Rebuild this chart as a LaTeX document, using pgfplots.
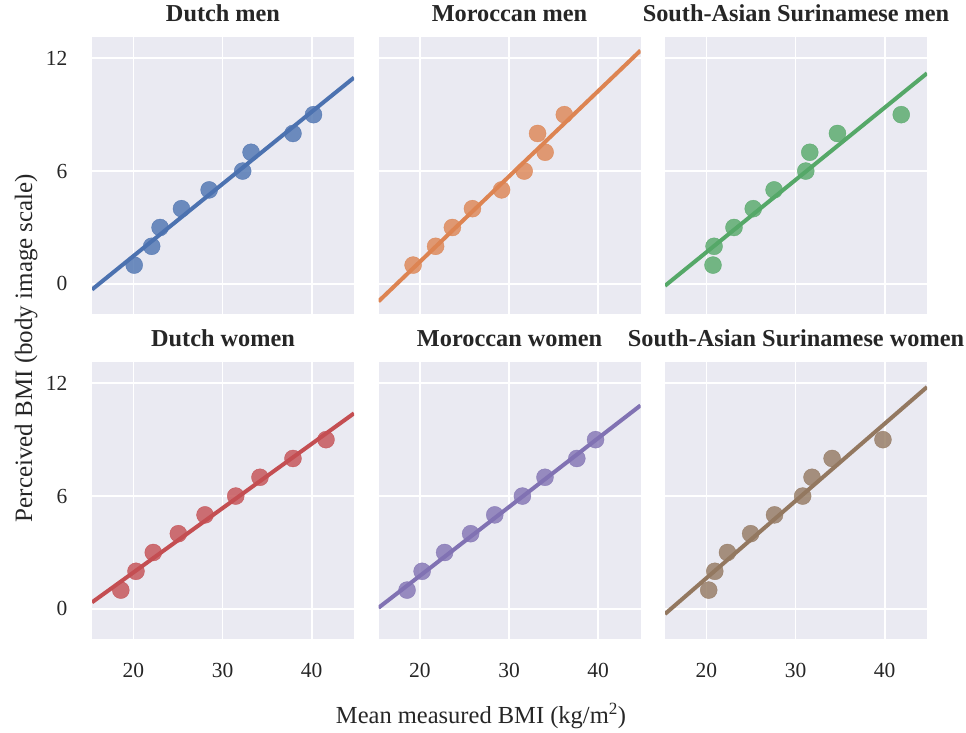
\documentclass[border=0pt]{standalone}
\usepackage{fontspec}
\setmainfont{Liberation Serif}
\usepackage{pgfplots}
\pgfplotsset{compat=1.18}
\definecolor{bgc}{HTML}{EAEAF2}
\definecolor{c1}{HTML}{4C72B0}
\definecolor{c2}{HTML}{DD8452}
\definecolor{c3}{HTML}{55A868}
\definecolor{c4}{HTML}{C44E52}
\definecolor{c5}{HTML}{8172B3}
\definecolor{c6}{HTML}{937860}
\pgfplotsset{
  panel/.style={
    scale only axis, width=262pt, height=277pt, anchor=south west,
    xmin=15.37, xmax=44.74, ymin=-1.6, ymax=13.13,
    axis background/.style={fill=bgc},
    axis line style={draw=none},
    grid=major, major grid style={white, line width=1.6pt},
    xtick={20,30,40}, ytick={0,6,12},
    major tick length=0pt,
    /pgf/number format/assume math mode=true,
    tick label style={font=\fontsize{21.5}{24}\selectfont, text=black!85},
    xticklabel style={yshift=-21pt},
    yticklabel style={xshift=-21pt},
    title style={font=\bfseries\fontsize{24.3}{28}\selectfont, text=black!85, yshift=6pt},
  },
  pts/.style={only marks, mark=*, mark size=8.5pt, mark options={fill=#1, draw=#1, fill opacity=0.8, draw opacity=0.8}},
  fit/.style={no marks, line width=4pt, color=#1},
}
\begin{document}
\begin{tikzpicture}
\path[use as bounding box] (0,0) rectangle (966pt,733pt);
% Row 1
\begin{axis}[panel, at={(92pt,419pt)}, title={Dutch men}, xticklabels={}]
\addplot[pts=c1] coordinates {(20.1,1) (22.06,2) (23.0,3) (25.4,4) (28.5,5) (32.26,6) (33.2,7) (37.9,8) (40.2,9)};
\addplot[fit=c1] coordinates {(15.37,-0.30) (44.74,10.97)};
\end{axis}
\begin{axis}[panel, at={(378.5pt,419pt)}, title={Moroccan men}, xticklabels={}, yticklabels={}]
\addplot[pts=c2] coordinates {(19.25,1) (21.77,2) (23.65,3) (25.9,4) (29.17,5) (31.7,6) (34.05,7) (33.2,8) (36.2,9)};
\addplot[fit=c2] coordinates {(15.37,-0.93) (44.74,12.41)};
\end{axis}
\begin{axis}[panel, at={(665pt,419pt)}, title={South-Asian Surinamese men}, xticklabels={}, yticklabels={}]
\addplot[pts=c3] coordinates {(20.75,1) (20.87,2) (23.1,3) (25.26,4) (27.6,5) (31.15,6) (31.6,7) (34.7,8) (41.85,9)};
\addplot[fit=c3] coordinates {(15.37,-0.1) (44.74,11.2)};
\end{axis}
% Row 2
\begin{axis}[panel, at={(92pt,94pt)}, title={Dutch women}]
\addplot[pts=c4] coordinates {(18.6,1) (20.3,2) (22.24,3) (25.05,4) (28.04,5) (31.48,6) (34.2,7) (37.9,8) (41.6,9)};
\addplot[fit=c4] coordinates {(15.37,0.35) (44.74,10.4)};
\end{axis}
\begin{axis}[panel, at={(378.5pt,94pt)}, title={Moroccan women}, yticklabels={}]
\addplot[pts=c5] coordinates {(18.57,1) (20.26,2) (22.78,3) (25.7,4) (28.4,5) (31.5,6) (34.03,7) (37.6,8) (39.7,9)};
\addplot[fit=c5] coordinates {(15.37,0.06) (44.74,10.82)};
\end{axis}
\begin{axis}[panel, at={(665pt,94pt)}, title={South-Asian Surinamese women}, yticklabels={}]
\addplot[pts=c6] coordinates {(20.27,1) (20.95,2) (22.37,3) (24.97,4) (27.65,5) (30.8,6) (31.85,7) (34.1,8) (39.8,9)};
\addplot[fit=c6] coordinates {(15.37,-0.27) (44.74,11.8)};
\end{axis}
\node[anchor=base, font=\fontsize{24.5}{28}\selectfont, text=black!85] at (481pt,9pt) {Mean measured BMI (kg/m\textsuperscript{2})};
\node[anchor=base, rotate=90, font=\fontsize{25}{28}\selectfont, text=black!85] at (32pt,385pt) {Perceived BMI (body image scale)};
\end{tikzpicture}
\end{document}
